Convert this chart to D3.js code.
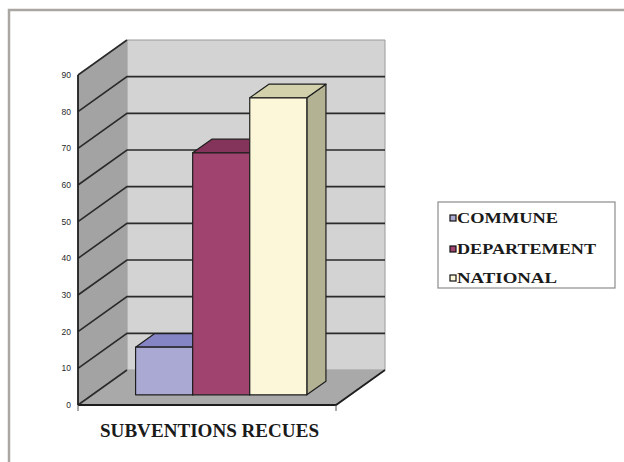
<!DOCTYPE html>
<html>
<head>
<meta charset="utf-8">
<script src="https://cdn.jsdelivr.net/npm/d3@7"></script>
<style>
  body { margin: 0; background: #fff; }
  svg { display: block; }
</style>
</head>
<body>
<div id="chart"></div>
<script>
// data
var series = ["COMMUNE", "DEPARTEMENT", "NATIONAL"];
var values = [13, 66, 81];
var yTicks = [0, 10, 20, 30, 40, 50, 60, 70, 80, 90];
var title = "SUBVENTIONS RECUES";

// colours per series: front, top, side
var frontCol = ["#a9a9d3", "#a1436f", "#fcf7d9"];
var topCol = ["#8585c5", "#84335b", "#d3d1ac"];
var sideCol = ["#7a7ab0", "#6e2b4c", "#b3b393"];

var width = 624, height = 462;

var svg = d3.select("#chart").append("svg")
    .attr("width", width)
    .attr("height", height);

// outer frame (only top + left visible)
svg.append("path")
    .attr("d", "M9,462 L9,10 L624,10")
    .attr("fill", "none")
    .attr("stroke", "#aaa6a2")
    .attr("stroke-width", 2.5);

// front plane scales, depth vector goes to the back wall
var y = d3.scaleLinear().domain([0, 90]).range([405, 75]);
var x0 = 78, x1 = 336;
var depthX = 49, depthY = -35;

var x = d3.scaleBand().domain(series).range([x0, x1]).paddingInner(0).paddingOuter(0.76);

function pt(px, py, f) { return [px + depthX * f, py + depthY * f]; }
function poly(pts) { return "M" + pts.map(function(p){ return p[0] + "," + p[1]; }).join("L") + "Z"; }

var g = svg.append("g");

// back wall
g.append("path")
    .attr("d", poly([pt(x0, y(0), 1), pt(x1, y(0), 1), pt(x1, y(90), 1), pt(x0, y(90), 1)]))
    .attr("fill", "#d3d3d3")
    .attr("stroke", "#9a9a9a")
    .attr("stroke-width", 1);

// left wall
g.append("path")
    .attr("d", poly([[x0, y(0)], pt(x0, y(0), 1), pt(x0, y(90), 1), [x0, y(90)]]))
    .attr("fill", "#a3a3a3")
    .attr("stroke", "none");

// floor
g.append("path")
    .attr("d", poly([[x0, y(0)], [x1, y(0)], pt(x1, y(0), 1), pt(x0, y(0), 1)]))
    .attr("fill", "#a9a9a9")
    .attr("stroke", "none");

// gridlines: diagonal on left wall + horizontal on back wall
yTicks.forEach(function(t) {
  var a = [x0, y(t)], b = pt(x0, y(t), 1), c = pt(x1, y(t), 1);
  g.append("path")
      .attr("d", "M" + a + "L" + b + (t > 0 && t < 90 ? "L" + c : ""))
      .attr("fill", "none")
      .attr("stroke", "#2a2a2a")
      .attr("stroke-width", 1.6);
});

// axis edges
g.append("line").attr("x1", x0).attr("y1", y(0)).attr("x2", x0).attr("y2", y(90))
    .attr("stroke", "#1e1e1e").attr("stroke-width", 1.8);
g.append("path")
    .attr("d", "M" + [x0, y(0)] + "L" + [x1, y(0)] + "L" + pt(x1, y(0), 1))
    .attr("fill", "none").attr("stroke", "#1e1e1e").attr("stroke-width", 1.8);
g.append("line").attr("x1", x0).attr("y1", y(0)).attr("x2", x0).attr("y2", y(0) + 6)
    .attr("stroke", "#555").attr("stroke-width", 1);
g.append("line").attr("x1", x1).attr("y1", y(0)).attr("x2", x1).attr("y2", y(0) + 6)
    .attr("stroke", "#555").attr("stroke-width", 1);

// tick labels
g.selectAll(".tick")
    .data(yTicks)
    .enter()
    .append("text")
    .attr("x", 71)
    .attr("y", function(d){ return y(d) + 3; })
    .attr("text-anchor", "end")
    .attr("font-family", "Liberation Sans, Arial, sans-serif")
    .attr("font-size", 8.5)
    .attr("fill", "#2a2a2a")
    .text(function(d){ return d; });

// bars
var f0 = 0.29, f1 = 0.68;
series.forEach(function(s, i) {
  var bx0 = x(s), bx1 = x(s) + x.bandwidth();
  var v = values[i];
  var bars = g.append("g");
  // side
  bars.append("path")
      .attr("d", poly([pt(bx1, y(0), f0), pt(bx1, y(0), f1), pt(bx1, y(v), f1), pt(bx1, y(v), f0)]))
      .attr("fill", sideCol[i]).attr("stroke", "#1e1e1e").attr("stroke-width", 1.2).attr("stroke-linejoin", "round");
  // top
  bars.append("path")
      .attr("d", poly([pt(bx0, y(v), f0), pt(bx1, y(v), f0), pt(bx1, y(v), f1), pt(bx0, y(v), f1)]))
      .attr("fill", topCol[i]).attr("stroke", "#1e1e1e").attr("stroke-width", 1.2).attr("stroke-linejoin", "round");
  // front
  bars.append("path")
      .attr("d", poly([pt(bx0, y(0), f0), pt(bx1, y(0), f0), pt(bx1, y(v), f0), pt(bx0, y(v), f0)]))
      .attr("fill", frontCol[i]).attr("stroke", "#1e1e1e").attr("stroke-width", 1.2).attr("stroke-linejoin", "round");
});

// title
svg.append("text")
    .attr("x", 100)
    .attr("y", 437)
    .attr("font-family", "Liberation Serif, Times New Roman, serif")
    .attr("font-weight", "bold")
    .attr("font-size", 18)
    .attr("fill", "#1a1a1a")
    .attr("textLength", 219)
    .attr("lengthAdjust", "spacingAndGlyphs")
    .text(title);

// legend
var legend = svg.append("g");
legend.append("rect")
    .attr("x", 438).attr("y", 202).attr("width", 177).attr("height", 86)
    .attr("fill", "#fff").attr("stroke", "#8c8c8c").attr("stroke-width", 1.2);

var legW = [101, 139, 100];
var legY = [223, 254, 283];
series.forEach(function(s, i) {
  legend.append("rect")
      .attr("x", 450).attr("y", legY[i] - 8).attr("width", 6).attr("height", 6)
      .attr("fill", frontCol[i]).attr("stroke", "#111").attr("stroke-width", 1.2);
  legend.append("text")
      .attr("x", 457).attr("y", legY[i])
      .attr("font-family", "Liberation Serif, Times New Roman, serif")
      .attr("font-weight", "bold")
      .attr("font-size", 14.5)
      .attr("fill", "#1a1a1a")
      .attr("textLength", legW[i])
      .attr("lengthAdjust", "spacingAndGlyphs")
      .text(s);
});
</script>
</body>
</html>
